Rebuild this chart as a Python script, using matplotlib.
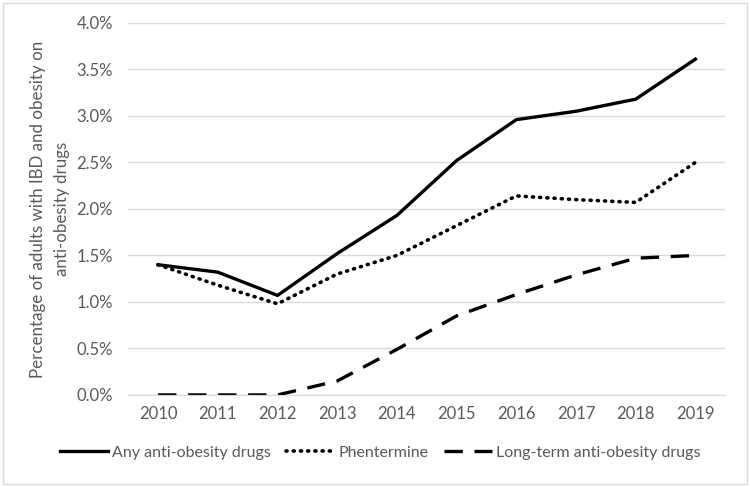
import matplotlib
matplotlib.use('Agg')
import matplotlib.pyplot as plt
from matplotlib.ticker import FuncFormatter, MultipleLocator
from matplotlib.patches import Rectangle

# --- data ---
years = [2010, 2011, 2012, 2013, 2014, 2015, 2016, 2017, 2018, 2019]
any_drugs = [1.40, 1.32, 1.07, 1.52, 1.93, 2.52, 2.96, 3.05, 3.18, 3.61]
phentermine = [1.40, 1.18, 0.98, 1.30, 1.50, 1.82, 2.14, 2.10, 2.07, 2.50]
long_term = [0.00, 0.00, 0.00, 0.15, 0.49, 0.85, 1.08, 1.29, 1.47, 1.50]

grey = '#595959'
plt.rcParams['font.family'] = ['Lato', 'DejaVu Sans']

fig = plt.figure(figsize=(7.5, 4.87), dpi=100)
ax = fig.add_axes([0.171, 0.189, 0.796, 0.764])

x = list(range(len(years)))
ax.plot(x, any_drugs, color='black', lw=2.4, label='Any anti-obesity drugs')
ax.plot(x, phentermine, color='black', lw=2.6, linestyle=(0, (0.3, 1.7)),
        dash_capstyle='round', label='Phentermine')
ax.plot(x, long_term, color='black', lw=2.4, linestyle=(0, (5.5, 3.5)),
        label='Long-term anti-obesity drugs')

ax.set_xlim(-0.5, len(years) - 0.5)
ax.set_ylim(0, 4.0)
ax.yaxis.set_major_locator(MultipleLocator(0.5))
ax.yaxis.set_major_formatter(FuncFormatter(lambda v, p: f'{v:.1f}%'))
ax.set_xticks(x)
ax.set_xticklabels([str(y) for y in years])
ax.grid(axis='y', color='#d9d9d9', lw=1)
ax.set_axisbelow(True)
for s in ['top', 'right', 'left']:
    ax.spines[s].set_visible(False)
ax.spines['bottom'].set_color('#d9d9d9')
ax.tick_params(length=0, labelsize=12, colors=grey)
ax.tick_params(axis='x', pad=8)
ax.tick_params(axis='y', pad=11)

ax.set_ylabel('Percentage of adults with IBD and obesity on\nanti-obesity drugs',
              fontsize=12.2, color=grey, labelpad=5, linespacing=1.55)

leg = fig.legend(loc='center', bbox_to_anchor=(0.507, 0.07), ncol=3, frameon=False,
                 fontsize=11.5, handlelength=3.0, columnspacing=1.0, handletextpad=0.25)
for t in leg.get_texts():
    t.set_color(grey)

fig.patches.append(Rectangle((0.004, 0.006), 0.992, 0.988, transform=fig.transFigure,
                             fill=False, edgecolor='#d9d9d9', lw=1))

fig.savefig('out.png', dpi=100)
